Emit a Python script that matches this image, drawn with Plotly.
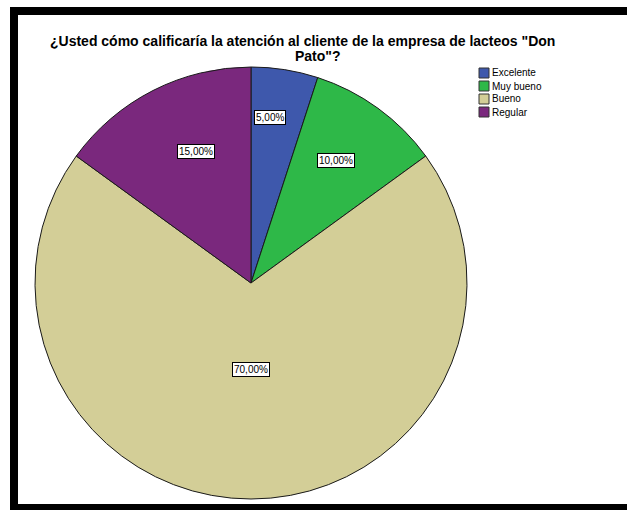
import math
import plotly.graph_objects as go

W, H = 627, 510

categories = ["Excelente", "Muy bueno", "Bueno", "Regular"]
values = [5.0, 10.0, 70.0, 15.0]
value_labels = ["5,00%", "10,00%", "70,00%", "15,00%"]
colors = ["#3E58AC", "#2EB848", "#D3CE97", "#7A287D"]
label_radius = [0.77, 0.69, 0.40, 0.66]
label_angle_shift = [-2.6, -1.0, 0.0, 4.5]
title_lines = ['¿Usted cómo calificaría la atención al cliente de la empresa de lacteos "Don', 'Pato"?']
title_centers = [302, 318]

# pie geometry (pixels)
cx, cy, R = 251, 283, 216

fig = go.Figure()
fig.add_trace(go.Pie(
    labels=categories, values=values, sort=False, direction="clockwise",
    rotation=0, marker=dict(colors=colors, line=dict(color="#1a1a1a", width=1)),
    textinfo="none", hoverinfo="label+percent", showlegend=False,
    domain=dict(x=[(cx - R) / W, (cx + R) / W], y=[1 - (cy + R) / H, 1 - (cy - R) / H]),
))

annotations = []
total = sum(values)
cum = 0.0
for v, t, rf, da in zip(values, value_labels, label_radius, label_angle_shift):
    mid = (cum + v / 2) / total * 2 * math.pi + math.radians(da)
    cum += v
    px = cx + rf * R * math.sin(mid)
    py = cy - rf * R * math.cos(mid)
    annotations.append(dict(
        x=px / W, y=1 - py / H, xref="paper", yref="paper", text=t, showarrow=False,
        xanchor="center", yanchor="middle",
        font=dict(family="Liberation Sans, Arial", size=10, color="black"),
        bgcolor="white", bordercolor="black", borderwidth=1, borderpad=1,
    ))

# title (two lines, tight spacing)
for i, (line, xc) in enumerate(zip(title_lines, title_centers)):
    annotations.append(dict(x=xc / W, y=1 - (41 + 15 * i) / H, xref="paper", yref="paper",
                            text="<b>" + line + "</b>", showarrow=False, xanchor="center", yanchor="middle",
                            font=dict(family="Liberation Sans, Arial", size=14, color="black")))

# manual legend
shapes = []
lx, ly, step = 479, 73, 13
for i, (c, col) in enumerate(zip(categories, colors)):
    y = ly + i * step
    shapes.append(dict(type="rect", xref="paper", yref="paper",
                       x0=lx / W, x1=(lx + 10) / W, y0=1 - (y + 5) / H, y1=1 - (y - 5) / H,
                       fillcolor=col, line=dict(color="#333333", width=1)))
    annotations.append(dict(x=(lx + 11) / W, y=1 - y / H, xref="paper", yref="paper",
                            text=c, showarrow=False, xanchor="left", yanchor="middle",
                            font=dict(family="Liberation Sans, Arial", size=10, color="black")))

# frame
shapes.append(dict(type="rect", xref="paper", yref="paper",
                   x0=14 / W, x1=650 / W, y0=1 - 508 / H, y1=1 - 11 / H,
                   line=dict(color="black", width=8), fillcolor="rgba(0,0,0,0)", layer="above"))

fig.update_layout(
    width=W, height=H, margin=dict(l=0, r=0, t=0, b=0),
    paper_bgcolor="white", plot_bgcolor="white",
    annotations=annotations, shapes=shapes,
)

fig.write_html("out.html", config={"displayModeBar": False},
               post_script="document.body.style.margin='0';document.body.style.overflow='hidden';")
